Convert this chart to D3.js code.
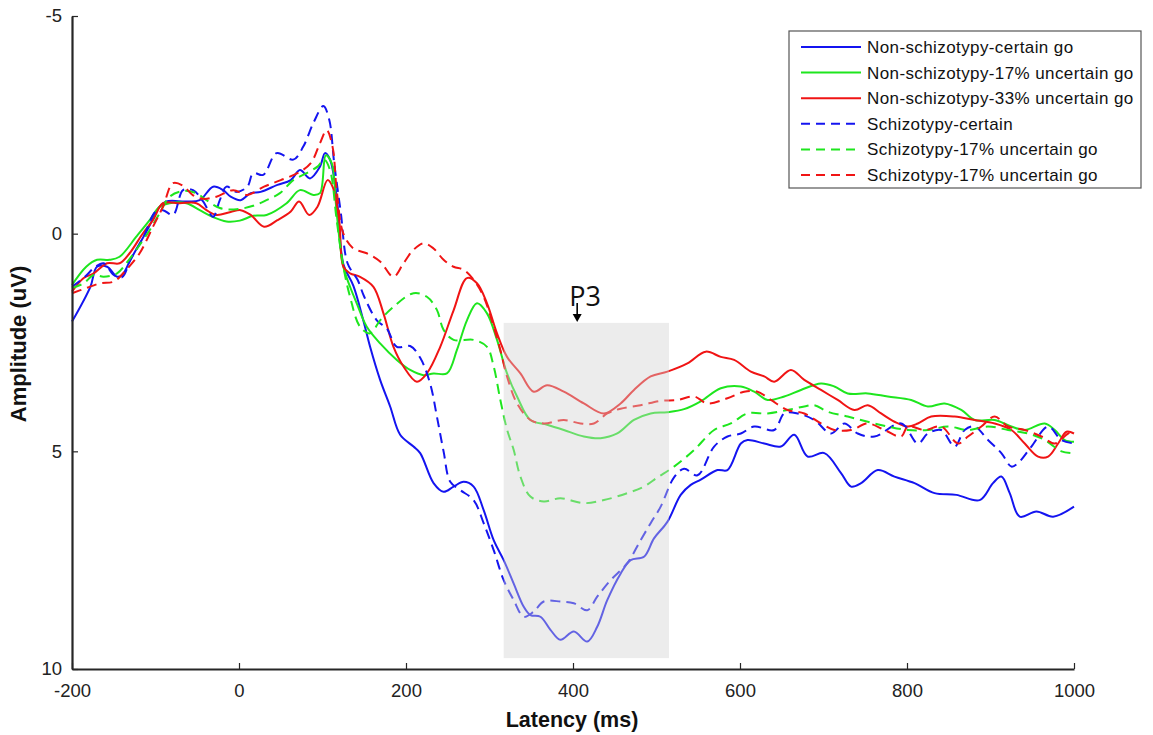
<!DOCTYPE html>
<html>
<head>
<meta charset="utf-8">
<script src="https://cdn.jsdelivr.net/npm/d3@7"></script>
<style>
    body { margin: 0; background: #fff; }
    svg text { font-family: "Liberation Sans", Arial, sans-serif; }
</style>
</head>
<body>
<div id="erp"></div>
<script>
// podaci: [latencija (ms), amplituda (uV)]
const nsCertain = [[-200,2.02],[-178,1.22],[-170,0.76],[-158,0.76],[-146,0.99],[-140,0.95],[-130,0.60],[-110,-0.08],[-95,-0.62],[-87,-0.74],[-63,-0.74],[-47,-0.77],[-31,-1.08],[-19,-1.0],[-10,-0.85],[2,-0.77],[14,-0.93],[26,-0.96],[46,-1.12],[62,-1.23],[73,-1.46],[85,-1.27],[97,-1.54],[103,-1.85],[109,-1.70],[117,-0.85],[125,0.70],[137,1.2],[149,2.0],[157,2.6],[169,3.36],[181,3.97],[193,4.62],[209,4.89],[217,5.04],[233,5.73],[245,5.93],[257,5.81],[269,5.70],[281,5.81],[293,6.35],[305,7.04],[317,7.50],[329,8.04],[341,8.57],[349,8.76],[361,8.80],[373,9.10],[385,9.33],[401,9.14],[417,9.37],[429,9.03],[441,8.42],[457,7.81],[469,7.50],[485,7.42],[497,7.0],[513,6.62],[529,6.0],[541,5.77],[553,5.65],[573,5.43],[585,5.43],[601,4.82],[609,4.74],[629,4.82],[649,4.89],[665,4.62],[681,5.12],[701,5.04],[721,5.50],[733,5.81],[745,5.73],[765,5.43],[785,5.58],[809,5.73],[833,5.96],[859,6.00],[887,6.12],[903,5.73],[913,5.58],[923,5.96],[935,6.50],[955,6.38],[975,6.50],[1000,6.27]];

const ns17 = [[-200,1.18],[-183,0.76],[-170,0.60],[-155,0.60],[-143,0.53],[-123,0.07],[-107,-0.31],[-95,-0.62],[-83,-0.70],[-63,-0.70],[-47,-0.54],[-31,-0.38],[-15,-0.28],[1,-0.30],[17,-0.41],[33,-0.43],[57,-0.70],[73,-1.00],[89,-0.89],[97,-0.93],[104,-1.80],[111,-1.62],[117,-0.47],[125,0.76],[133,1.22],[141,1.6],[153,2.14],[169,2.52],[189,2.90],[205,3.13],[221,3.25],[233,3.21],[249,3.21],[261,2.67],[273,1.99],[285,1.60],[297,1.83],[309,2.44],[321,3.21],[333,3.74],[349,4.28],[369,4.39],[389,4.51],[413,4.66],[433,4.70],[453,4.59],[473,4.28],[493,4.13],[513,4.10],[533,4.03],[553,3.85],[577,3.55],[601,3.51],[617,3.63],[633,3.82],[653,3.74],[673,3.59],[697,3.44],[713,3.51],[729,3.67],[753,3.67],[777,3.74],[805,3.82],[825,3.97],[845,3.90],[865,4.05],[881,4.28],[905,4.28],[925,4.43],[941,4.51],[965,4.36],[977,4.51],[989,4.74],[1000,4.78]];

const ns33 = [[-200,1.33],[-186,1.02],[-174,0.91],[-158,0.68],[-143,0.68],[-131,0.45],[-115,-0.01],[-103,-0.31],[-91,-0.70],[-71,-0.70],[-51,-0.70],[-39,-0.54],[-27,-0.43],[-10,-0.50],[2,-0.54],[14,-0.43],[30,-0.16],[46,-0.31],[62,-0.51],[72,-0.74],[84,-0.43],[94,-0.62],[106,-1.23],[112,-1.08],[120,-0.31],[125,0.76],[133,0.91],[145,0.99],[161,1.22],[173,1.83],[185,2.60],[197,3.05],[213,3.40],[225,3.21],[241,2.60],[257,1.76],[273,1.02],[285,1.14],[297,1.60],[309,2.29],[321,2.83],[337,3.21],[353,3.63],[369,3.48],[389,3.63],[413,3.90],[437,4.13],[457,3.90],[473,3.59],[493,3.28],[513,3.17],[537,2.98],[559,2.71],[577,2.83],[593,2.90],[613,3.17],[629,3.28],[641,3.40],[661,3.13],[677,3.36],[697,3.59],[717,3.82],[737,4.05],[753,3.94],[769,4.13],[785,4.32],[801,4.43],[813,4.36],[829,4.20],[857,4.20],[881,4.28],[905,4.36],[925,4.51],[941,4.82],[957,5.12],[969,5.12],[981,4.82],[991,4.55],[1000,4.59]];

const sCertain = [[-200,1.22],[-185,1.0],[-172,0.76],[-162,0.68],[-150,0.95],[-140,1.0],[-130,0.6],[-115,0.1],[-100,-0.5],[-91,-0.54],[-79,-0.43],[-67,-1.0],[-55,-1.0],[-43,-0.74],[-31,-0.39],[-23,-0.77],[-15,-1.08],[-3,-0.96],[10,-1.08],[17,-1.39],[29,-1.35],[45,-1.85],[65,-1.70],[77,-2.0],[89,-2.54],[101,-2.93],[108,-2.62],[114,-1.62],[122,-0.47],[130,0.68],[142,1.06],[150,1.45],[165,1.99],[177,2.18],[189,2.60],[205,2.58],[217,2.85],[229,3.45],[237,4.2],[245,5.0],[253,5.7],[265,5.89],[281,6.12],[293,6.65],[305,7.27],[317,7.96],[329,8.42],[341,8.80],[353,8.68],[365,8.45],[385,8.45],[401,8.49],[417,8.65],[429,8.34],[445,7.96],[465,7.57],[481,7.04],[493,6.65],[505,6.27],[521,5.6],[533,5.4],[549,5.55],[569,4.89],[585,4.66],[601,4.59],[617,4.43],[641,4.51],[653,4.13],[669,4.13],[689,4.28],[709,4.59],[725,4.36],[741,4.59],[761,4.66],[793,4.36],[813,4.82],[825,4.59],[841,4.51],[857,4.89],[869,4.51],[881,4.43],[897,4.74],[913,5.04],[925,5.35],[933,5.27],[949,4.89],[969,4.43],[985,4.74],[1000,4.82]];

const s17 = [[-200,1.25],[-186,1.14],[-174,0.95],[-162,0.99],[-146,0.91],[-135,0.68],[-123,0.37],[-107,-0.08],[-95,-0.47],[-83,-0.85],[-67,-0.98],[-51,-0.93],[-39,-0.77],[-23,-0.59],[-3,-0.56],[17,-0.64],[33,-0.77],[49,-0.93],[65,-1.23],[81,-1.39],[94,-1.54],[102,-1.70],[109,-1.46],[117,-0.31],[125,0.76],[133,1.45],[145,2.14],[157,2.29],[169,1.99],[185,1.68],[209,1.37],[225,1.45],[237,1.75],[245,2.21],[257,2.44],[281,2.44],[297,2.60],[305,3.05],[313,3.82],[321,4.5],[329,4.97],[337,5.58],[349,6.04],[365,6.15],[385,6.08],[413,6.19],[437,6.12],[465,5.96],[485,5.81],[501,5.60],[521,5.35],[545,4.97],[569,4.51],[589,4.36],[609,4.13],[633,4.13],[657,4.05],[677,3.97],[689,3.94],[705,4.09],[729,4.20],[753,4.32],[777,4.43],[801,4.51],[825,4.51],[849,4.43],[873,4.51],[897,4.43],[921,4.51],[945,4.59],[965,4.74],[985,5.00],[1000,5.04]];

const s17b = [[-200,1.37],[-183,1.25],[-166,1.14],[-150,1.10],[-135,0.83],[-119,0.45],[-103,-0.16],[-91,-0.62],[-79,-1.16],[-67,-1.10],[-55,-0.88],[-43,-0.80],[-27,-0.85],[-7,-1.00],[10,-0.89],[30,-1.08],[50,-1.23],[70,-1.39],[86,-1.62],[97,-2.08],[105,-2.38],[112,-2.0],[117,-1.0],[125,0.0],[137,0.34],[153,0.45],[169,0.64],[185,0.99],[197,0.68],[209,0.37],[221,0.22],[233,0.34],[245,0.60],[257,0.76],[269,0.83],[281,1.06],[293,1.45],[305,2.14],[313,2.67],[321,3.28],[333,3.90],[349,4.28],[365,4.36],[389,4.28],[409,4.36],[425,4.36],[441,4.13],[457,4.02],[481,3.94],[505,3.84],[525,3.82],[545,3.74],[561,3.90],[585,3.78],[605,3.63],[621,3.63],[637,3.82],[657,4.05],[677,4.13],[697,4.36],[713,4.51],[733,4.51],[753,4.36],[773,4.51],[793,4.66],[801,4.43],[821,4.51],[841,4.43],[861,4.82],[873,4.66],[889,4.43],[905,4.20],[921,4.43],[941,4.51],[961,4.66],[977,4.82],[993,4.59],[1000,4.55]];

const legendLabels = [
    "Non-schizotypy-certain go",
    "Non-schizotypy-17% uncertain go",
    "Non-schizotypy-33% uncertain go",
    "Schizotypy-certain",
    "Schizotypy-17% uncertain go",
    "Schizotypy-17% uncertain go"
];
const xTicks = [-200, 0, 200, 400, 600, 800, 1000];
const yTicks = [-5, 0, 5, 10];
const p3Window = [317, 515];      // ms
const p3Amplitude = [2.05, 9.75]; // uV
const p3Peak = 405;               // ms

function drawErp() {

    // 1. Dimenzije
    const dim = {
        width: 1153,
        height: 735,
        margin: { top: 16, right: 79, bottom: 66, left: 72 }
    };
    dim.w = dim.width - dim.margin.left - dim.margin.right;
    dim.h = dim.height - dim.margin.top - dim.margin.bottom;

    const svg = d3.select("#erp")
        .append("svg")
        .attr("width", dim.width)
        .attr("height", dim.height);

    const g = svg.append("g")
        .attr("transform", `translate(${dim.margin.left},${dim.margin.top})`);

    // 2. Razmjeri (negativno gore, kao u MATLAB-u)
    const x = d3.scaleLinear().domain([-200, 1000]).range([0, dim.w]);
    const y = d3.scaleLinear().domain([-5, 10]).range([0, dim.h]);

    // 3. Krivulje
    const series = [
        { data: nsCertain, color: "#1414f0", dash: null },
        { data: ns17,      color: "#1ee61e", dash: null },
        { data: ns33,      color: "#f01414", dash: null },
        { data: sCertain,  color: "#1414f0", dash: "10,6" },
        { data: s17,       color: "#1ee61e", dash: "10,6" },
        { data: s17b,      color: "#f01414", dash: "10,6" }
    ];

    const line = d3.line()
        .x(d => x(d[0]))
        .y(d => y(d[1]))
        .curve(d3.curveCatmullRom.alpha(0.5));

    g.selectAll("path.erp")
        .data(series)
        .enter().append("path")
        .attr("class", "erp")
        .attr("d", d => line(d.data))
        .attr("fill", "none")
        .attr("stroke", d => d.color)
        .attr("stroke-width", 2)
        .attr("stroke-dasharray", d => d.dash);

    // P3 prozor (poluprozirno preko krivulja)
    g.append("rect")
        .attr("x", x(p3Window[0]))
        .attr("y", y(p3Amplitude[0]))
        .attr("width", x(p3Window[1]) - x(p3Window[0]))
        .attr("height", y(p3Amplitude[1]) - y(p3Amplitude[0]))
        .attr("fill", "#d2d2d2")
        .attr("opacity", 0.42);

    // strelica i oznaka P3
    const ax = x(p3Peak), ay = y(p3Amplitude[0]);
    g.append("text")
        .attr("x", ax - 8)
        .attr("y", ay - 17)
        .attr("text-anchor", "start")
        .style("font-family", "'Open Sans', 'Noto Sans', sans-serif")
        .style("font-size", "27px")
        .attr("fill", "#111")
        .text("P3");
    g.append("line")
        .attr("x1", ax).attr("x2", ax)
        .attr("y1", ay - 20).attr("y2", ay - 6)
        .attr("stroke", "#000")
        .attr("stroke-width", 1.6);
    g.append("path")
        .attr("d", `M${ax - 4.5},${ay - 9}L${ax + 4.5},${ay - 9}L${ax},${ay - 1}Z`)
        .attr("fill", "#000");

    // 4. Osi (kvačice prema unutra)
    const axisColor = "#262626";
    const fmt = d => String(d);
    const xAxis = g.append("g")
        .attr("transform", `translate(0,${dim.h})`)
        .call(d3.axisBottom(x).tickValues(xTicks).tickFormat(fmt)
            .tickSizeInner(-6).tickSizeOuter(0).tickPadding(15));
    const yAxis = g.append("g")
        .call(d3.axisLeft(y).tickValues(yTicks).tickFormat(fmt)
            .tickSizeInner(-6).tickSizeOuter(0).tickPadding(10));

    [xAxis, yAxis].forEach(a => {
        a.select(".domain").attr("stroke", axisColor).attr("stroke-width", 2.2);
        a.selectAll(".tick line").attr("stroke", axisColor).attr("stroke-width", 1.2);
        a.selectAll(".tick text")
            .attr("fill", "#222")
            .style("font-family", "'Liberation Sans', Arial, sans-serif")
            .style("font-size", "18.5px");
    });

    g.append("text")
        .attr("x", dim.w / 2 - 1)
        .attr("y", dim.h + 58)
        .attr("text-anchor", "middle")
        .style("font-weight", "bold")
        .style("font-size", "21.5px")
        .attr("fill", "#111")
        .text("Latency (ms)");

    g.append("text")
        .attr("transform", "rotate(-90)")
        .attr("x", -(344 - dim.margin.top))
        .attr("y", -46)
        .attr("text-anchor", "middle")
        .style("font-weight", "bold")
        .style("font-size", "22px")
        .attr("fill", "#111")
        .text("Amplitude (uV)");

    // 5. Legenda
    const legend = g.append("g")
        .attr("transform", `translate(${789 - dim.margin.left},${31 - dim.margin.top})`);

    legend.append("rect")
        .attr("width", 352)
        .attr("height", 157)
        .attr("fill", "#fff")
        .attr("stroke", "#555")
        .attr("stroke-width", 1.2);

    const rows = legend.selectAll("g.row")
        .data(series)
        .enter().append("g")
        .attr("class", "row")
        .attr("transform", (d, i) => `translate(0,${16 + i * 25.6})`);

    rows.append("line")
        .attr("x1", 12).attr("x2", 72)
        .attr("stroke", d => d.color)
        .attr("stroke-width", 2)
        .attr("stroke-dasharray", d => d.dash ? "9,6" : null);

    rows.append("text")
        .attr("x", 78)
        .attr("y", 6)
        .style("font-size", "17px")
        .style("letter-spacing", "0.4px")
        .attr("fill", "#111")
        .text((d, i) => legendLabels[i]);
}

drawErp();
</script>
</body>
</html>
